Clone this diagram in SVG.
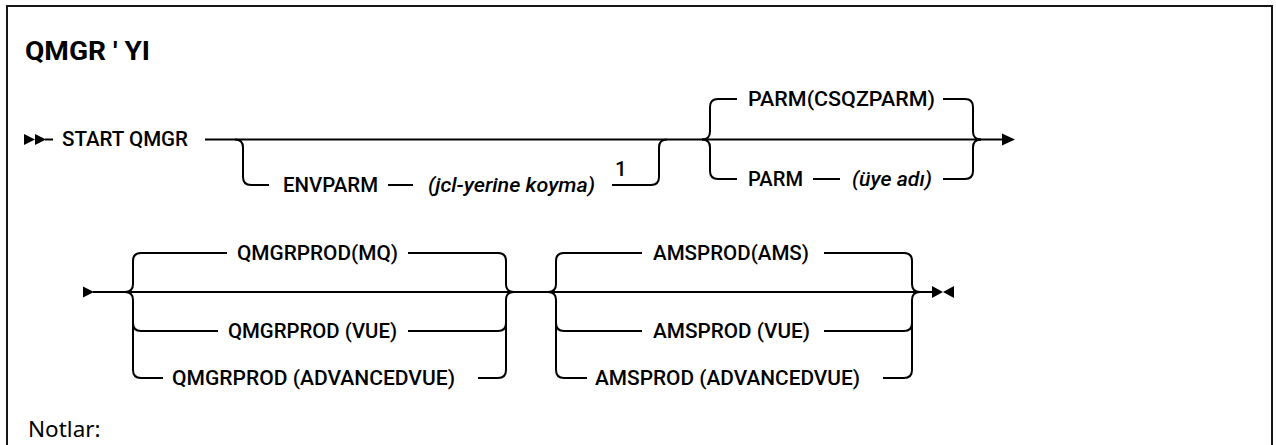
<svg xmlns="http://www.w3.org/2000/svg" width="1276" height="445" viewBox="0 0 1276 445">
<style>
.frame{fill:none;stroke:#161616;stroke-width:2}
.ln{fill:none;stroke:#000;stroke-width:2}
.mk{fill:#000;stroke:none}
text{font-family:Roboto,"Liberation Sans",Arial,sans-serif;font-size:20.5px;font-weight:500;fill:#000}
.it{font-style:italic}
.title{font-weight:bold;font-size:25px}
.note{font-family:"Noto Sans","Liberation Sans",sans-serif;font-size:22.5px;font-weight:normal}
</style>
<rect x="0" y="0" width="1276" height="445" fill="#fff"/>
<path class="frame" d="M7 447 V6 H1272 V447"/>
<g id="title"><text class="title" x="25" y="60" textLength="125" lengthAdjust="spacingAndGlyphs">QMGR ' YI</text></g>
<g id="connectors">
  <polygon class="mk" points="24,134 35,139.5 24,145"/>
  <polygon class="mk" points="35,134 46,139.5 35,145"/>
  <path class="ln" d="M45 139.5 H53"/>
  <path class="ln" d="M205 139.5 H1003"/>
  <path class="ln" d="M235 139.5 Q243 139.5 243 147.5 V177 Q243 185 251 185 H269"/>
  <path class="ln" d="M388 185 H413"/>
  <path class="ln" d="M612 185 H651 Q659 185 659 177 V147.5 Q659 139.5 667 139.5"/>
  <path class="ln" d="M702 139.5 Q710 139.5 710 131.5 V107 Q710 99 718 99 H737"/>
  <path class="ln" d="M702 139.5 Q710 139.5 710 147.5 V171 Q710 179 718 179 H737"/>
  <path class="ln" d="M813 179 H840"/>
  <path class="ln" d="M943 99 H965 Q973 99 973 107 V131.5 Q973 139.5 981 139.5"/>
  <path class="ln" d="M943 179 H965 Q973 179 973 171 V147.5 Q973 139.5 981 139.5"/>
  <polygon class="mk" points="1002,133.5 1015,139.5 1002,145.5"/>
  <polygon class="mk" points="83,286.5 94,292 83,297.5"/>
  <path class="ln" d="M93 292 H932"/>
  <path class="ln" d="M125 292 Q133 292 133 284 V261 Q133 253 141 253 H227"/>
  <path class="ln" d="M125 292 Q133 292 133 300 V370 Q133 378 141 378 H163"/>
  <path class="ln" d="M133 323 Q133 331 141 331 H218"/>
  <path class="ln" d="M408 253 H498 Q506 253 506 261 V284 Q506 292 514 292"/>
  <path class="ln" d="M478 378 H498 Q506 378 506 370 V300 Q506 292 514 292"/>
  <path class="ln" d="M408 331 H498 Q506 331 506 323"/>
  <path class="ln" d="M548 292 Q556 292 556 284 V261 Q556 253 564 253 H642"/>
  <path class="ln" d="M548 292 Q556 292 556 300 V370 Q556 378 564 378 H587"/>
  <path class="ln" d="M556 323 Q556 331 564 331 H642"/>
  <path class="ln" d="M824 253 H904 Q912 253 912 261 V284 Q912 292 920 292"/>
  <path class="ln" d="M883 378 H904 Q912 378 912 370 V300 Q912 292 920 292"/>
  <path class="ln" d="M824 331 H904 Q912 331 912 323"/>
  <polygon class="mk" points="932,286 943,292 932,298"/>
  <polygon class="mk" points="954,286 943,292 954,298"/>
</g>
<g id="start"><text x="62" y="146" textLength="126" lengthAdjust="spacingAndGlyphs">START QMGR</text></g>
<g id="envparm">
  <text x="283" y="192" textLength="95" lengthAdjust="spacingAndGlyphs">ENVPARM</text>
  <text class="it" x="428" y="192" textLength="167" lengthAdjust="spacingAndGlyphs">(jcl-yerine koyma)</text>
  <text x="615" y="176">1</text>
</g>
<g id="parm-default"><text x="748" y="106" textLength="187" lengthAdjust="spacingAndGlyphs">PARM(CSQZPARM)</text></g>
<g id="parm">
  <text x="748" y="186" textLength="55" lengthAdjust="spacingAndGlyphs">PARM</text>
  <text class="it" x="852" y="186" textLength="80" lengthAdjust="spacingAndGlyphs">(üye adı)</text>
</g>
<g id="qmgrprod-mq"><text x="237" y="260" textLength="161" lengthAdjust="spacingAndGlyphs">QMGRPROD(MQ)</text></g>
<g id="qmgrprod-vue"><text x="228" y="338" textLength="169" lengthAdjust="spacingAndGlyphs">QMGRPROD (VUE)</text></g>
<g id="qmgrprod-advancedvue"><text x="172" y="385" textLength="283" lengthAdjust="spacingAndGlyphs">QMGRPROD (ADVANCEDVUE)</text></g>
<g id="amsprod-ams"><text x="653" y="260" textLength="156" lengthAdjust="spacingAndGlyphs">AMSPROD(AMS)</text></g>
<g id="amsprod-vue"><text x="653" y="338" textLength="157" lengthAdjust="spacingAndGlyphs">AMSPROD (VUE)</text></g>
<g id="amsprod-advancedvue"><text x="595" y="385" textLength="265" lengthAdjust="spacingAndGlyphs">AMSPROD (ADVANCEDVUE)</text></g>
<g id="notes"><text class="note" x="28" y="437">Notlar:</text></g>
</svg>
